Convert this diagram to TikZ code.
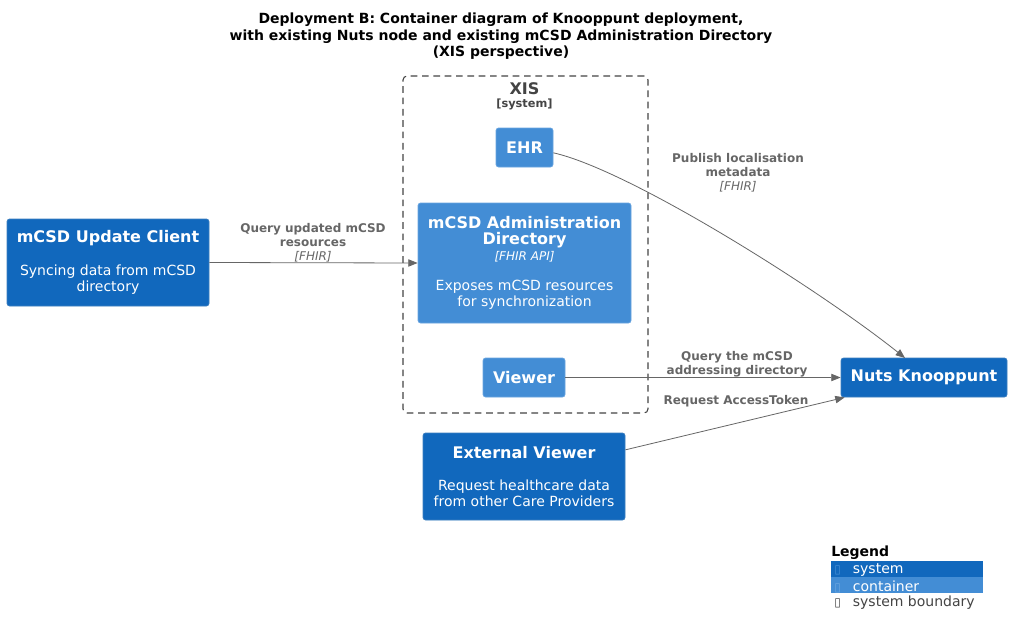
\documentclass[tikz,border=0pt]{standalone}
\usepackage{fontspec}
\setmainfont{DejaVu Sans}
\usetikzlibrary{arrows.meta,calc}
\definecolor{sys}{HTML}{1168BD}
\definecolor{cont}{HTML}{438DD5}
\definecolor{sysb}{HTML}{3C7FC0}
\definecolor{contb}{HTML}{6AA5E0}
\definecolor{lnk}{HTML}{666666}
\definecolor{bnd}{HTML}{444444}
\begin{document}
\begin{tikzpicture}[x=0.75pt,y=-0.75pt,
  box/.style={rectangle, rounded corners=2pt, text=white, align=center, inner sep=0pt, line width=0.6pt},
  sysbox/.style={box, fill=sys, draw=sysb},
  contbox/.style={box, fill=cont, draw=contb},
  lbl/.style={text=lnk, font=\fontsize{9}{10.5}\selectfont\bfseries, align=center, inner sep=0pt},
  rel/.style={draw=lnk, line width=0.6pt, -{Triangle[length=7pt,width=5.5pt]}},
  legtxt/.style={anchor=west, inner sep=0pt, font=\fontsize{10.5}{12}\selectfont},
  legbar/.style={rectangle, inner sep=0pt, minimum width=114pt, minimum height=12pt}
]
\useasboundingbox (0,0) rectangle (1012,635);
\fill[white] (0,0) rectangle (1012,635);

% title
\node[align=center, inner sep=0pt, font=\fontsize{10.5}{12.4}\selectfont\bfseries] (title) at (501,36.5)
  {Deployment B: Container diagram of Knooppunt deployment,\\with existing Nuts node and existing mCSD Administration Directory\\(XIS perspective)};

% XIS boundary
\node[rectangle, draw=bnd, dash pattern=on 5pt off 3.5pt, rounded corners=3pt, line width=0.8pt,
      minimum width=183.75pt, minimum height=252.75pt, inner sep=0pt] (xis) at (525.5,244.5) {};
\node[text=bnd, font=\fontsize{12}{14}\selectfont\bfseries, inner sep=0pt] (xisname) at (524.5,88.5) {XIS};
\node[text=bnd, font=\fontsize{8.5}{10}\selectfont\bfseries, inner sep=0pt] (xistype) at (524.5,104.5) {[system]};

% containers
\node[contbox, minimum width=42.75pt, minimum height=29.25pt, font=\fontsize{12}{14}\selectfont\bfseries] (ehr) at (524.5,147.5) {EHR};
\node[contbox, minimum width=159.75pt, minimum height=90pt] (admin) at (524.5,263)
  {\fontsize{12}{14.25}\selectfont\bfseries mCSD Administration\\\fontsize{12}{14.25}\selectfont\bfseries Directory\\
   \fontsize{9}{11}\selectfont\itshape [FHIR API]\\[11pt]
   \fontsize{10.5}{12.5}\selectfont Exposes mCSD resources\\\fontsize{10.5}{12.5}\selectfont for synchronization};
\node[contbox, minimum width=61.5pt, minimum height=29.25pt, font=\fontsize{12}{14}\selectfont\bfseries] (viewer) at (524,377.5) {Viewer};

% systems
\node[sysbox, minimum width=151.5pt, minimum height=65.25pt] (client) at (108,262.5)
  {\fontsize{12}{14.25}\selectfont\bfseries mCSD Update Client\\[12.5pt]
   \fontsize{10.5}{12.5}\selectfont Syncing data from mCSD\\\fontsize{10.5}{12.5}\selectfont directory};
\node[sysbox, minimum width=124.5pt, minimum height=29.25pt, font=\fontsize{12}{14}\selectfont\bfseries] (nuts) at (924,377.5) {Nuts Knooppunt};
\node[sysbox, minimum width=151.5pt, minimum height=65.25pt] (ext) at (524,476.5)
  {\fontsize{12}{14.25}\selectfont\bfseries External Viewer\\[12.5pt]
   \fontsize{10.5}{12.5}\selectfont Request healthcare data\\\fontsize{10.5}{12.5}\selectfont from other Care Providers};

% relations
\coordinate (nutsin) at (905,358);
\draw[rel] (client.east) -- (admin.west);
\draw[rel] ([yshift=-4pt]ehr.east) .. controls (630,170) and (820,290) .. (nutsin);
\draw[rel] (viewer.east) -- (nuts.west);
\draw[rel] ([yshift=20pt]ext.east) -- ([xshift=3pt]nuts.south west);

% relation labels
\node[lbl] (l1) at (313,242.5) {Query updated mCSD\\resources\\{\mdseries\itshape [FHIR]}};
\node[lbl] (l2) at (738,172.5) {Publish localisation\\metadata\\{\mdseries\itshape [FHIR]}};
\node[lbl] (l3) at (737,364.5) {Query the mCSD\\addressing directory};
\node[lbl] (l4) at (736,401.5) {Request AccessToken};

% legend
\node[legtxt, font=\fontsize{10.5}{12}\selectfont\bfseries] (legend) at (831,553) {Legend};
\node[legbar, fill=sys] (lsys) at (907,569) {};
\node[legbar, fill=cont] (lcont) at (907,585) {};
\node[legtxt, text=white] (lsyst) at (834,570.5) {{\color{cont}\fontsize{9}{10}\selectfont ▯}\hspace{9pt}system};
\node[legtxt, text=white] (lcontt) at (834,586.5) {{\color{contb}\fontsize{9}{10}\selectfont ▯}\hspace{9pt}container};
\node[legtxt, text=bnd] (lbnd) at (834,602.5) {{\fontsize{9}{10}\selectfont ▯}\hspace{9pt}system boundary};
\end{tikzpicture}
\end{document}
